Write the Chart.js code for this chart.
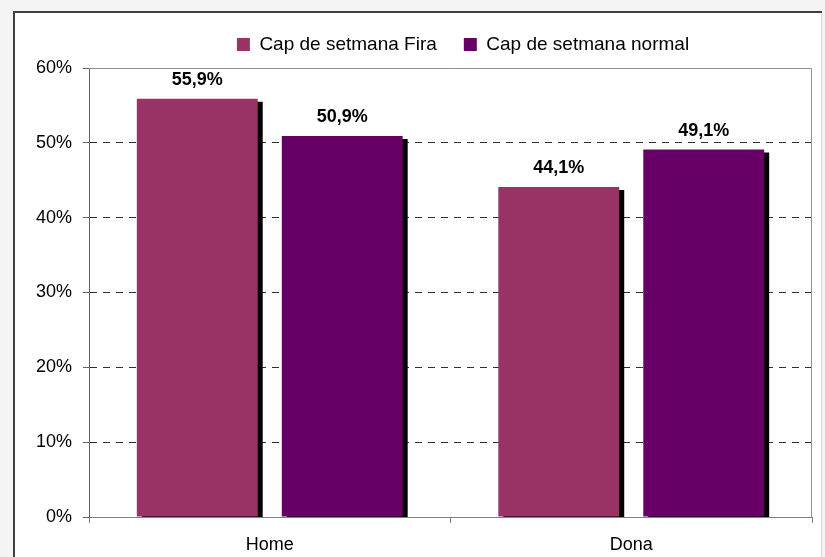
<!DOCTYPE html>
<html lang="ca">
<head>
  <meta charset="UTF-8" />
  <title>Cap de setmana Fira vs normal</title>
  <script src="https://cdn.jsdelivr.net/npm/chart.js"></script>
  <style>
    html, body {
      margin: 0;
      padding: 0;
      background: #f4f4f4;
      overflow: hidden;
    }
    #chart {
      display: block;
    }
  </style>
</head>
<body>
  <canvas id="chart" width="825" height="557"></canvas>

  <script>
    const categories = ["Home", "Dona"];
    const seriesNames = ["Cap de setmana Fira", "Cap de setmana normal"];
    const firaValues = [55.9, 44.1];
    const normalValues = [50.9, 49.1];
    const yTicks = [0, 10, 20, 30, 40, 50, 60];

    const FONT = "'Liberation Sans', Arial, sans-serif";

    // grey page, white chart box with a dark border on top and left
    const pageFrame = {
      id: 'pageFrame',
      beforeDraw(chart) {
        const ctx = chart.ctx;
        const w = chart.width, h = chart.height;
        ctx.save();
        ctx.fillStyle = '#f4f4f4';
        ctx.fillRect(0, 0, w, h);
        ctx.fillStyle = '#ffffff';
        ctx.fillRect(13, 11, 809, h - 11);
        ctx.fillStyle = '#404040';
        ctx.fillRect(13, 11, 809, 2);
        ctx.fillRect(13, 11, 2, h - 11);
        ctx.fillStyle = '#d8d8d8';
        ctx.fillRect(821, 13, 1, h - 13);
        ctx.restore();
      }
    };

    // black drop shadow behind bars, like the old spreadsheet style
    const barShadow = {
      id: 'barShadow',
      beforeDatasetsDraw(chart) {
        const ctx = chart.ctx;
        ctx.save();
        ctx.shadowColor = '#000000';
        ctx.shadowOffsetX = 5;
        ctx.shadowOffsetY = 3;
        ctx.shadowBlur = 0;
      },
      afterDatasetsDraw(chart) {
        chart.ctx.restore();
      }
    };

    // grey frame round the plot area
    const plotFrame = {
      id: 'plotFrame',
      beforeDatasetsDraw(chart) {
        const a = chart.chartArea;
        const ctx = chart.ctx;
        ctx.save();
        ctx.strokeStyle = '#909090';
        ctx.lineWidth = 1;
        ctx.beginPath();
        ctx.moveTo(a.left, a.top + 0.5);
        ctx.lineTo(a.right - 0.5, a.top + 0.5);
        ctx.lineTo(a.right - 0.5, a.bottom);
        ctx.stroke();
        ctx.restore();
      }
    };

    // value labels above each bar
    const valueLabels = {
      id: 'valueLabels',
      afterDatasetsDraw(chart) {
        const ctx = chart.ctx;
        ctx.save();
        ctx.font = "bold 18px " + FONT;
        ctx.fillStyle = '#000000';
        ctx.textAlign = 'center';
        ctx.textBaseline = 'alphabetic';
        chart.data.datasets.forEach((ds, i) => {
          chart.getDatasetMeta(i).data.forEach((bar, j) => {
            const txt = ds.data[j].toFixed(1).replace('.', ',') + '%';
            ctx.fillText(txt, bar.x, bar.y - 14);
          });
        });
        ctx.restore();
      }
    };

    // fixed legend height and horizontal shift
    const legendBox = {
      id: 'legendBox',
      beforeInit(chart) {
        const fit = chart.legend.fit;
        chart.legend.fit = function () {
          fit.call(this);
          this.height = 60;
        };
      },
      afterLayout(chart) {
        chart.legend.left += 57;
        chart.legend.right += 57;
      }
    };

    new Chart(document.getElementById('chart'), {
      type: 'bar',
      data: {
        labels: categories,
        datasets: [
          {
            label: seriesNames[0],
            data: firaValues,
            backgroundColor: '#993366',
            barPercentage: 0.834,
            categoryPercentage: 0.802
          },
          {
            label: seriesNames[1],
            data: normalValues,
            backgroundColor: '#660066',
            barPercentage: 0.834,
            categoryPercentage: 0.802
          }
        ]
      },
      options: {
        responsive: false,
        animation: false,
        layout: {
          padding: { top: 8, left: 0, right: 13, bottom: 0 }
        },
        plugins: {
          legend: {
            display: true,
            position: 'top',
            labels: {
              font: { family: FONT, size: 19 },
              color: '#000000',
              boxWidth: 13,
              boxHeight: 13,
              padding: 27
            }
          },
          tooltip: { enabled: false }
        },
        scales: {
          x: {
            afterFit(s) { s.height = 40; },
            border: { display: true, color: '#808080', width: 1 },
            grid: {
              offset: true,
              drawOnChartArea: false,
              drawTicks: true,
              tickLength: 6,
              tickColor: '#808080'
            },
            ticks: {
              font: { family: FONT, size: 18 },
              color: '#000000',
              padding: 11
            }
          },
          y: {
            min: 0,
            max: 60,
            afterFit(s) { s.width = 89; },
            afterBuildTicks(s) { s.ticks = yTicks.map(v => ({ value: v })); },
            border: { display: true, color: '#606060', width: 1, dash: [7, 6] },
            grid: {
              color: c => (c.tick && c.tick.value > 0 && c.tick.value < 60) ? '#303030' : 'rgba(0,0,0,0)',
              lineWidth: 1,
              drawTicks: true,
              tickLength: 6,
              tickColor: '#606060',
              tickBorderDash: []
            },
            ticks: {
              font: { family: FONT, size: 18 },
              color: '#000000',
              padding: 11,
              callback: v => v + '%'
            }
          }
        }
      },
      plugins: [pageFrame, legendBox, plotFrame, barShadow, valueLabels]
    });
  </script>
</body>
</html>
